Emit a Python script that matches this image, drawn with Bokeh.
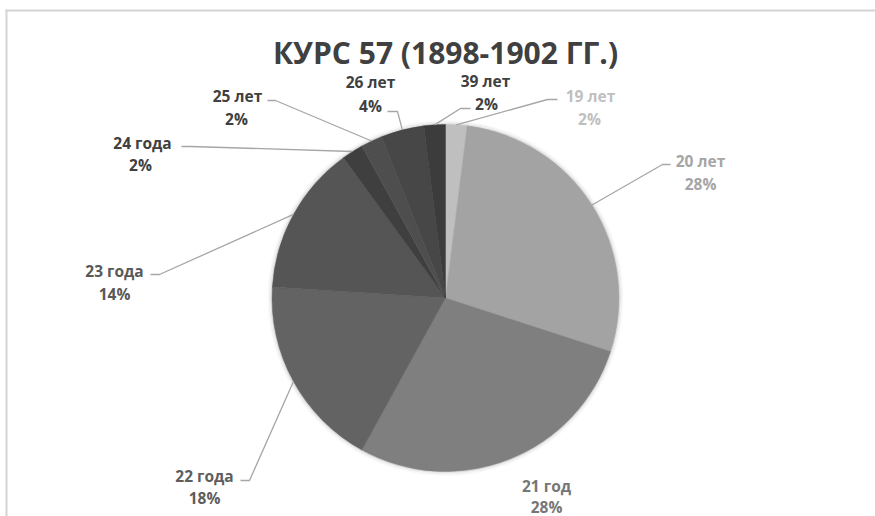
import math
from bokeh.plotting import figure
from bokeh.models import ColumnDataSource, Range1d
from bokeh.core.properties import value
from bokeh.embed import file_html
from bokeh.resources import INLINE

# ---- data ----
categories = ["19 лет", "20 лет", "21 год", "22 года", "23 года", "24 года", "25 лет", "26 лет", "39 лет"]
shares = [2, 28, 28, 18, 14, 2, 2, 4, 2]
title_text = "КУРС 57 (1898-1902 ГГ.)"

# ---- styles / layout ----
slice_colors = ["#bfbfbf", "#a3a3a3", "#7f7f7f", "#636363", "#555555", "#3f3f3f", "#4e4e4e", "#474747", "#3c3c3c"]
label_colors = ["#bfbfbf", "#a5a5a5", "#767676", "#5e5e5e", "#595959", "#404040", "#404040", "#404040", "#404040"]
# label centres (picture px): line1 x, line1 y, line2 x, line2 y
lab_pos = [
    (590, 95, 589, 118),
    (700, 160, 700, 183),
    (546, 485, 546, 506),
    (204, 475, 204, 497),
    (114, 270, 114, 293),
    (142, 142, 140, 164),
    (237, 95, 236, 118),
    (370, 81, 370, 105),
    (485, 80, 486, 103),
]
# leader elbows and ends (picture px); None = no leader
leaders = [
    ((547, 99), (557, 99)),
    ((662, 164), (670, 164)),
    None,
    ((249, 480), (240, 480)),
    ((159, 274), (150, 274)),
    ((190, 146), (181, 146)),
    ((275, 100), (267, 100)),
    ((397, 111), (387, 111)),
    ((460, 108), (470, 108)),
]

W, H = 875, 516
CX, CY, R = 445, 297.5, 173.5


def Y(py):
    return H - py


p = figure(width=W, height=H, output_backend="svg", toolbar_location=None,
           x_range=Range1d(0, W), y_range=Range1d(0, H),
           min_border=0, outline_line_color=None)
p.axis.visible = False
p.grid.visible = False
p.background_fill_color = "white"

# frame lines
p.line([6, 6], [Y(9), Y(520)], line_color="#d4d4d4", line_width=2)
p.line([5, 880], [Y(10), Y(10)], line_color="#d4d4d4", line_width=2)

# soft shadow
for dr, a in [(1.5, 0.10), (3.0, 0.05), (4.5, 0.025)]:
    p.circle(x=[CX], y=[Y(CY)], radius=R + dr - 1, fill_color=None,
             line_color="black", line_alpha=a, line_width=2)

total = sum(shares)
starts, ends, mids = [], [], []
c = 0
for s in shares:
    c0 = c / total
    c += s
    c1 = c / total
    starts.append(math.pi / 2 - 2 * math.pi * c1)
    ends.append(math.pi / 2 - 2 * math.pi * c0)
    mids.append(math.pi / 2 - 2 * math.pi * (c0 + c1) / 2)

src = ColumnDataSource(dict(x=[CX] * len(shares), y=[Y(CY)] * len(shares),
                            start=starts, end=ends, color=slice_colors, cat=categories))
p.wedge(x="x", y="y", radius=R, start_angle="start", end_angle="end",
        fill_color="color", line_color="color", line_width=0.5, source=src)

# leaders
for i, ld in enumerate(leaders):
    if ld is None:
        continue
    ex = CX + R * math.cos(mids[i])
    ey = Y(CY) + R * math.sin(mids[i])
    (bx, by), (tx, ty) = ld
    p.line([ex, bx, tx], [ey, Y(by), Y(ty)], line_color="#a6a6a6", line_width=1.3)

# labels
l1x = [lp[0] for lp in lab_pos]
l1y = [Y(lp[1]) for lp in lab_pos]
l2x = [lp[2] for lp in lab_pos]
l2y = [Y(lp[3]) for lp in lab_pos]
pct = [f"{round(100 * s / total)}%" for s in shares]
p.text(x=l1x, y=l1y, text=categories, text_color=label_colors,
       text_font=value("Open Sans"), text_font_style="bold", text_font_size="15.5px",
       text_align="center", text_baseline="middle")
p.text(x=l2x, y=l2y, text=pct, text_color=label_colors,
       text_font=value("Open Sans"), text_font_style="bold", text_font_size="15.5px",
       text_align="center", text_baseline="middle")

# title
p.text(x=[445], y=[Y(52)], text=[title_text], text_color="#404040",
       text_font=value("Open Sans"), text_font_style="bold", text_font_size="30px",
       text_align="center", text_baseline="middle")

open("out.html", "w").write(file_html(p, INLINE))
